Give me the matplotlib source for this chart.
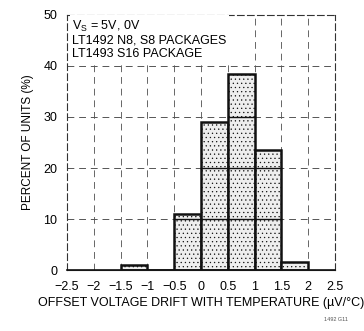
import matplotlib
matplotlib.use("Agg")
import matplotlib.pyplot as plt
import numpy as np

# Histogram of offset voltage drift
bin_edges = [-1.5, -1.0, -0.5, 0.0, 0.5, 1.0, 1.5, 2.0]
percent_units = [1.0, 0.0, 11.0, 29.0, 38.5, 23.5, 1.5]
x_ticks = [-2.5, -2, -1.5, -1, -0.5, 0, 0.5, 1, 1.5, 2, 2.5]
x_tick_labels = ["\u22122.5", "\u22122", "\u22121.5", "\u22121", "\u22120.5", "0", "0.5", "1", "1.5", "2", "2.5"]
y_ticks = [0, 10, 20, 30, 40, 50]

plt.rcParams["font.family"] = ["Liberation Sans", "DejaVu Sans"]
plt.rcParams["hatch.color"] = "#8a8a8a"
plt.rcParams["hatch.linewidth"] = 0.4

fig = plt.figure(figsize=(3.64, 3.31), dpi=100)
ax = fig.add_axes([0.184, 0.184, 0.736, 0.771])

ax.set_xlim(-2.5, 2.5)
ax.set_ylim(0, 50)

# dashed grid
dash = (0, (7, 5))
for xv in x_ticks[1:-1]:
    ax.axvline(xv, color="#666666", lw=0.7, ls=dash, zorder=1)
for yv in y_ticks[1:-1]:
    ax.axhline(yv, color="#555555", lw=0.7, ls=dash, zorder=1)

lefts = np.array(bin_edges[:-1])
widths = np.diff(bin_edges)
ax.bar(lefts, percent_units, width=widths, align="edge",
       facecolor="#eeeeee", edgecolor="#111111", linewidth=1.8,
       hatch="....", zorder=2)

# solid grid segments inside the bars
for left, w, h in zip(lefts, widths, percent_units):
    for yv in y_ticks[1:-1]:
        if h > yv:
            ax.plot([left, left + w], [yv, yv], color="#111111", lw=1.0, zorder=3)

# baseline along the bottom
ax.plot([-2.5, 2.5], [0, 0], color="#111111", lw=1.2, zorder=3, clip_on=False)

for s in ax.spines.values():
    s.set_linestyle((0, (6, 3)))
    s.set_linewidth(0.8)
    s.set_color("#333333")
ax.spines["bottom"].set_linestyle("-")

ax.set_xticks(x_ticks)
ax.set_xticklabels(x_tick_labels, fontsize=9)
ax.set_yticks(y_ticks)
ax.set_yticklabels([str(v) for v in y_ticks], fontsize=9)
ax.tick_params(axis="x", length=0, pad=8)
ax.tick_params(axis="y", length=0, pad=7)

ax.set_xlabel("OFFSET VOLTAGE DRIFT WITH TEMPERATURE (\u00b5V/\u00b0C)", fontsize=9, labelpad=3)
ax.set_ylabel("PERCENT OF UNITS (%)", fontsize=8.5, labelpad=7)

ax.text(0.02, 0.985,
        "V$_\\mathregular{S}$ = 5V, 0V\nLT1492 N8, S8 PACKAGES\nLT1493 S16 PACKAGE",
        transform=ax.transAxes, fontsize=9, va="top", ha="left", linespacing=1.1,
        bbox=dict(facecolor="white", edgecolor="none", pad=2), zorder=5)

fig.text(0.955, 0.03, "1492 G11", fontsize=4, ha="right", color="#555555")

fig.savefig("out.png", dpi=100)
